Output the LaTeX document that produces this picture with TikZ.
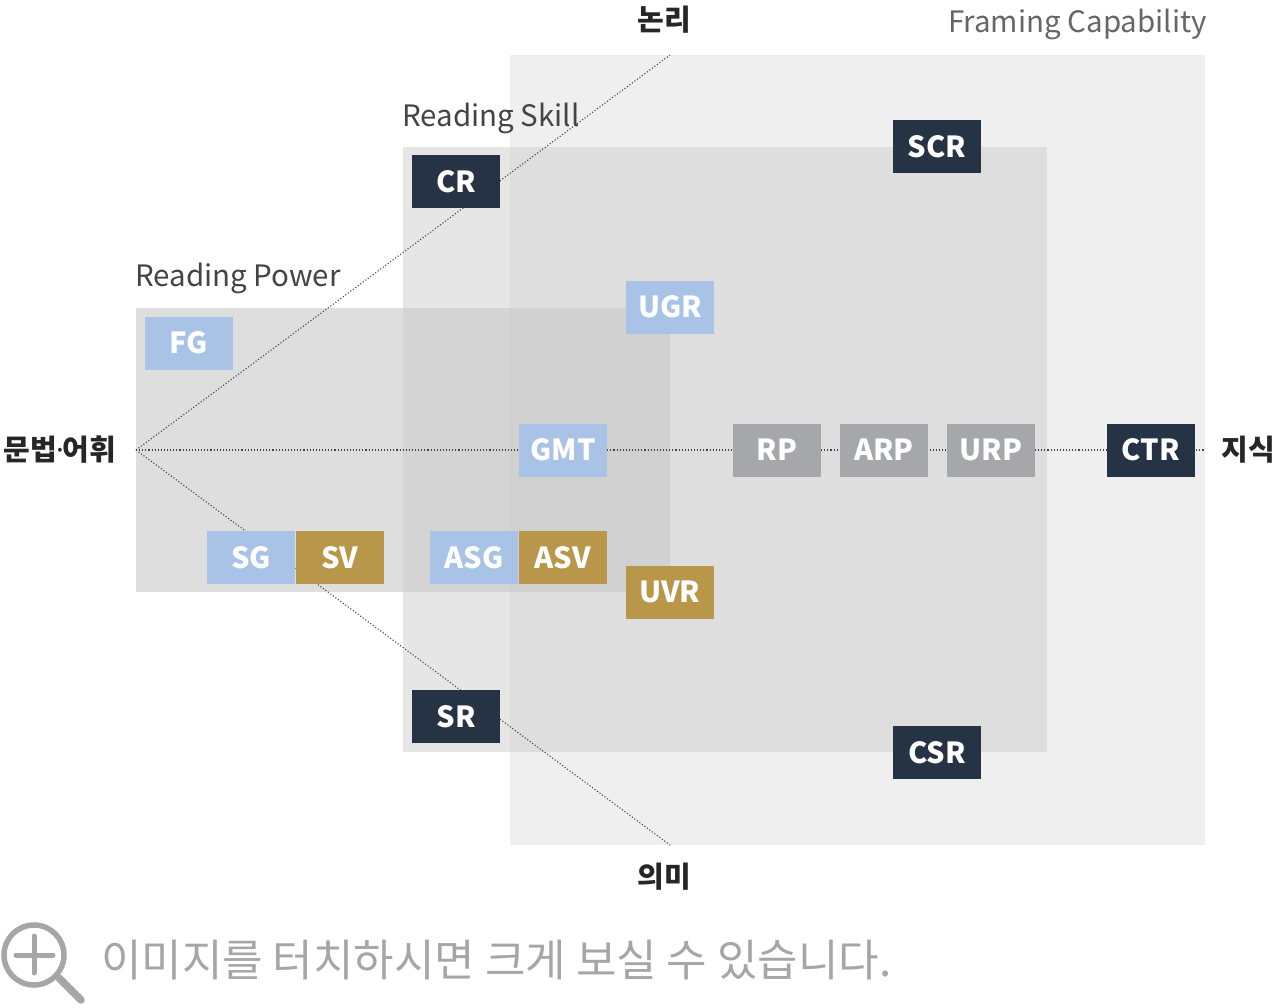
\documentclass[tikz,border=0pt]{standalone}
\usepackage{fontspec}
\setmainfont{Noto Sans CJK KR}
\newfontfamily\latinfont{Noto Sans}
\usetikzlibrary{positioning}
\definecolor{navy}{HTML}{263345}
\definecolor{lblue}{HTML}{A9C3E6}
\definecolor{gold}{HTML}{B8964A}
\definecolor{mgray}{HTML}{A6A7AA}
\definecolor{fcgray}{HTML}{EFEFEF}
\definecolor{rsgray}{HTML}{E6E6E6}
\definecolor{rsfcgray}{HTML}{DEDEDE}
\definecolor{rpgray}{HTML}{DEDEDE}
\definecolor{rprsgray}{HTML}{D4D4D4}
\definecolor{allgray}{HTML}{D1D1D1}
\definecolor{txtgray}{HTML}{444444}
\definecolor{icongray}{HTML}{A6A6A6}
\tikzset{
  box/.style={minimum width=88pt, minimum height=53pt, inner sep=0pt, text=white,
    font=\fontsize{29}{29}\selectfont\bfseries},
  darkbox/.style={box, fill=navy},
  bluebox/.style={box, fill=lblue},
  goldbox/.style={box, fill=gold},
  graybox/.style={box, fill=mgray},
  axis/.style={dotted, line width=1.1pt, color=txtgray},
  axlabel/.style={font=\fontsize{29}{29}\selectfont\bfseries, text=black!85, inner sep=0pt},
  grouplabel/.style={font=\fontsize{29.5}{29.5}\selectfont, text=txtgray, inner sep=0pt},
}
\begin{document}
\begin{tikzpicture}[x=1pt,y=-1pt]
\useasboundingbox (0,0) rectangle (1277,1007);
% background regions
\fill[fcgray] (510,55) rectangle (1205,845);
\fill[rsgray] (403,147) rectangle (1047,752);
\fill[rsfcgray] (510,147) rectangle (1047,752);
\fill[rpgray] (136,308) rectangle (670,592);
\fill[rprsgray] (403,308) rectangle (670,592);
\fill[allgray] (510,308) rectangle (670,592);
% group labels
\node[grouplabel, anchor=base west] (lrp) at (135,286) {Reading Power};
\node[grouplabel, anchor=base west] (lrs) at (402,126) {Reading Skill};
\node[grouplabel, anchor=base east, text=black!60] (lfc) at (1207,32) {Framing Capability};
% axes
\coordinate (O) at (136,450);
\coordinate (L) at (670,55);
\coordinate (M) at (670,845);
\coordinate (K) at (1205,450);
\draw[axis] (O) -- (L);
\draw[axis] (O) -- (M);
\draw[axis] (O) -- (K);
% axis labels
\node[axlabel] (nonri) at (664,20) {논리};
\node[axlabel] (uimi) at (664,877) {의미};
\node[axlabel] (munbeop) at (60,450) {문법{\latinfont\bfseries\kern-1pt·\kern-1pt}어휘};
\node[axlabel] (jisik) at (1248,450) {지식};
% boxes
\node[darkbox] (CR) at (456,181.5) {CR};
\node[darkbox] (SCR) at (937,146.5) {SCR};
\node[bluebox] (UGR) at (670,307) {UGR};
\node[bluebox] (FG) at (189,343) {FG};
\node[bluebox] (GMT) at (563,450) {GMT};
\node[graybox] (RP) at (777,450) {RP};
\node[graybox] (ARP) at (884,450) {ARP};
\node[graybox] (URP) at (991,450) {URP};
\node[darkbox] (CTR) at (1151,450) {CTR};
\node[bluebox] (SG) at (251,557.5) {SG};
\node[goldbox] (SV) at (340,557.5) {SV};
\node[bluebox] (ASG) at (474,557.5) {ASG};
\node[goldbox] (ASV) at (563,557.5) {ASV};
\node[goldbox] (UVR) at (670,592) {UVR};
\node[darkbox] (SR) at (456,716.5) {SR};
\node[darkbox] (CSR) at (937,752.5) {CSR};
% magnifier icon
\draw[icongray, line width=5.5pt] (34,955) circle (30);
\draw[icongray, line width=5pt, line cap=round] (16,955) -- (53,955);
\draw[icongray, line width=5pt, line cap=round] (34,936) -- (34,973);
\draw[icongray, line width=7.5pt, line cap=round] (59,978) -- (81,1000);
\node[anchor=west, inner sep=0pt, text=icongray, font=\fontsize{44}{44}\selectfont] (hint) at (101,960) {이미지를 터치하시면 크게 보실 수 있습니다.};
\end{tikzpicture}
\end{document}
